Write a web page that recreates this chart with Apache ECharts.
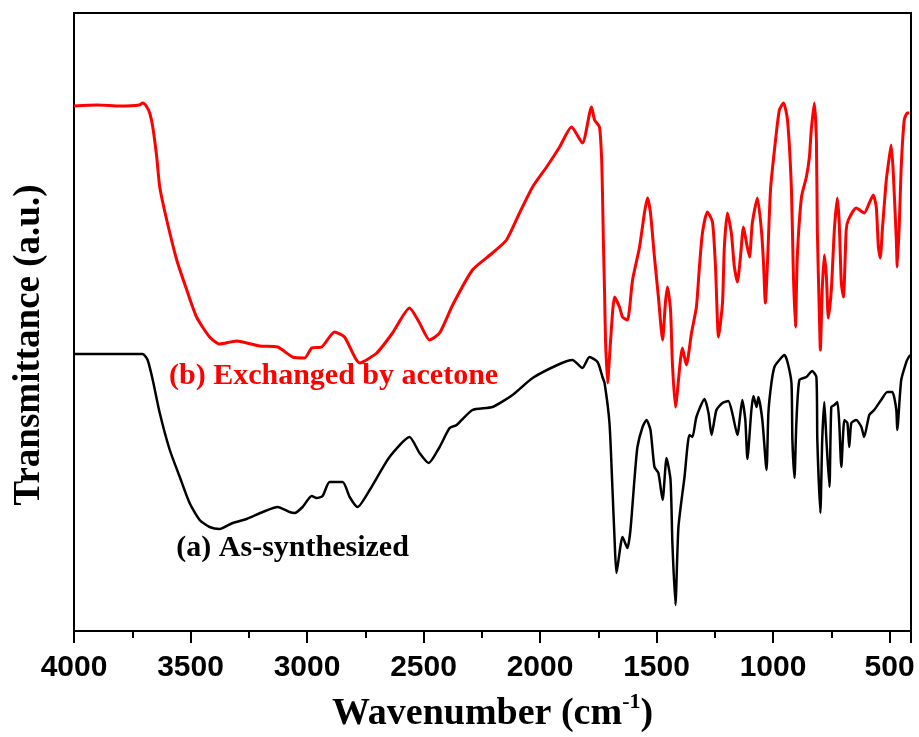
<!DOCTYPE html>
<html>
<head>
<meta charset="utf-8">
<script src="https://cdn.jsdelivr.net/npm/echarts@6/dist/echarts.min.js"></script>
<style>
  html, body { margin: 0; padding: 0; background: #fff; }
  #chart { width: 919px; height: 737px; }
</style>
</head>
<body>
<div id="chart"></div>
<script>
// FTIR spectra: [wavenumber (cm-1), transmittance (a.u., offset for stacking)]
const asSynthesized = [
  [4000,27.7],[3900,27.7],[3800,27.7],[3705,27.7],[3684,27.1],[3662,25.1],[3632,21.8],[3589,18.1],
  [3546,15.4],[3504,12.8],[3461,11.1],[3418,10.4],[3375,10.2],[3319,10.8],[3259,11.2],[3190,11.9],
  [3126,12.4],[3075,11.9],[3053,11.8],[3019,12.4],[2980,13.5],[2959,13.3],[2933,13.5],[2903,14.9],
  [2847,14.9],[2817,13.4],[2783,12.4],[2731,14.1],[2646,17.4],[2560,19.4],[2517,17.8],[2478,16.8],
  [2431,18.4],[2388,20.3],[2358,20.6],[2290,22.1],[2204,22.4],[2118,23.6],[2032,25.3],[1916,26.7],
  [1861,27.1],[1818,26.3],[1788,27.4],[1753,26.9],[1732,25.4],[1723,24.8],[1702,20.8],[1689,14.1],
  [1680,9.1],[1672,5.8],[1646,9.4],[1625,8.3],[1612,10.1],[1595,15.1],[1582,18.4],[1560,20.4],
  [1543,21.1],[1526,20.1],[1509,16.4],[1492,15.8],[1474,13.1],[1457,17.3],[1440,15.1],[1432,8.8],
  [1419,2.6],[1406,10.4],[1380,15.4],[1359,19.6],[1346,19.4],[1329,21.4],[1294,23.2],[1277,21.8],
  [1264,19.6],[1243,22.1],[1217,22.8],[1192,23.0],[1175,21.8],[1153,19.6],[1132,23.1],[1119,21.1],
  [1110,17.2],[1093,22.1],[1084,23.5],[1071,22.4],[1063,23.4],[1046,21.1],[1028,16.1],[1020,21.8],
  [1007,24.8],[994,26.4],[973,27.1],[951,27.6],[938,26.9],[921,24.8],[917,19.1],[908,15.3],
  [900,20.8],[887,25.1],[857,25.4],[832,26.0],[814,25.4],[810,19.1],[797,11.8],[789,19.1],
  [780,22.9],[771,19.1],[758,14.4],[750,22.4],[737,22.6],[724,22.9],[716,20.8],[707,16.4],
  [694,21.1],[681,20.8],[673,18.4],[664,20.8],[643,21.1],[621,20.4],[609,19.4],[587,21.6],
  [566,22.1],[536,23.1],[510,23.9],[488,23.9],[471,22.1],[467,20.1],[450,25.1],[428,26.9],
  [420,27.3],[411,27.6]
];

const acetoneExchanged = [
  [4000,52.5],[3900,52.6],[3800,52.5],[3720,52.6],[3705,52.8],[3690,52.5],[3675,51.8],[3662,50.4],
  [3645,47.4],[3632,44.4],[3602,41.1],[3559,37.1],[3516,34.1],[3474,31.4],[3418,29.4],[3375,28.7],
  [3302,29.0],[3203,28.5],[3126,28.4],[3062,27.4],[3010,27.3],[2980,28.3],[2937,28.4],[2882,29.9],
  [2839,29.4],[2774,26.8],[2701,27.8],[2633,29.8],[2560,32.3],[2517,30.8],[2474,29.1],[2431,29.8],
  [2375,32.6],[2290,36.1],[2204,37.8],[2144,39.1],[2088,41.8],[2032,44.4],[1972,46.4],[1916,48.4],
  [1865,50.4],[1818,48.8],[1779,52.4],[1766,51.1],[1745,50.4],[1736,47.4],[1732,43.8],[1728,38.8],
  [1723,33.8],[1719,29.1],[1710,24.8],[1698,28.8],[1680,33.4],[1659,32.4],[1646,31.4],[1625,31.1],
  [1603,35.1],[1573,38.4],[1552,41.8],[1539,43.3],[1526,41.8],[1509,37.4],[1492,33.4],[1474,29.1],
  [1462,32.8],[1453,34.4],[1440,32.1],[1432,26.8],[1419,22.4],[1389,28.3],[1372,26.6],[1350,29.8],
  [1329,32.4],[1316,36.4],[1303,39.8],[1282,41.9],[1260,40.9],[1247,36.4],[1234,29.4],[1217,32.8],
  [1209,38.4],[1196,41.8],[1179,39.8],[1166,36.4],[1153,34.9],[1140,37.4],[1127,40.4],[1114,38.8],
  [1101,37.4],[1089,40.8],[1067,43.3],[1050,40.1],[1041,36.8],[1033,32.8],[1024,36.8],[1011,44.1],
  [994,48.1],[973,52.1],[955,52.8],[938,51.1],[921,44.1],[913,35.8],[904,30.4],[896,37.4],
  [878,43.4],[857,45.4],[844,47.4],[836,50.1],[823,52.8],[814,49.1],[810,40.1],[801,31.4],
  [797,28.1],[789,34.1],[780,37.6],[771,35.4],[763,31.3],[750,34.1],[737,40.1],[724,43.3],
  [716,40.8],[707,34.8],[698,33.4],[686,40.1],[677,41.1],[643,42.3],[609,41.8],[587,42.8],
  [570,43.6],[557,42.4],[548,38.4],[540,37.3],[531,40.1],[514,45.1],[501,47.4],[493,48.6],
  [484,45.8],[471,39.1],[467,36.4],[458,40.8],[450,46.4],[437,51.1],[424,51.8],[415,51.8]
];

const seriesNames = ['(a) As-synthesized', '(b) Exchanged by acetone'];
const xTitle = 'Wavenumber (cm{sup|-1})';
const yTitle = 'Transmittance (a.u.)';

const serif = '"Liberation Serif", "Times New Roman", serif';
const sans = '"Liberation Sans", Arial, sans-serif';

// Text label placed next to a curve, anchored at a data coordinate
function curveLabel(text, color, coord) {
  return {
    silent: true,
    symbol: 'rect',
    symbolSize: 1,
    itemStyle: { color: 'rgba(0,0,0,0)' },
    label: {
      show: true,
      position: 'inside',
      formatter: text,
      color: color,
      fontFamily: serif,
      fontWeight: 'bold',
      fontSize: 30
    },
    data: [{ coord: coord }]
  };
}

const chart = echarts.init(document.getElementById('chart'), null, { renderer: 'canvas' });
chart.setOption({
  animation: false,
  backgroundColor: '#fff',
  grid: {
    left: 74, right: 8, top: 13, bottom: 106,
    outerBoundsMode: 'none',
    containLabel: false,
    show: true, borderColor: '#000', borderWidth: 2, backgroundColor: 'transparent'
  },
  xAxis: {
    type: 'value',
    inverse: true,
    min: 408,
    max: 4000,
    splitNumber: 7,
    name: xTitle,
    nameLocation: 'middle',
    nameGap: 60,
    nameTextStyle: {
      color: '#000', fontFamily: serif, fontWeight: 'bold', fontSize: 38, lineHeight: 46,
      rich: {
        sup: {
          color: '#000', fontFamily: serif, fontWeight: 'bold',
          fontSize: 22, lineHeight: 22, verticalAlign: 'top'
        }
      }
    },
    axisLine: { onZero: false, lineStyle: { color: '#000', width: 2 } },
    axisTick: { inside: false, length: 12, lineStyle: { color: '#000', width: 2 } },
    minorTick: { show: true, splitNumber: 2, length: 7, lineStyle: { color: '#000', width: 2 } },
    splitLine: { show: false },
    axisLabel: {
      showMinLabel: false,
      margin: 22,
      formatter: function (v) { return String(v); },
      color: '#000', fontFamily: sans, fontWeight: 'bold', fontSize: 30
    }
  },
  yAxis: {
    type: 'value',
    min: 0,
    max: 61.8,
    name: yTitle,
    nameLocation: 'middle',
    nameGap: 26,
    nameTextStyle: {
      color: '#000', fontFamily: serif, fontWeight: 'bold', fontSize: 37,
      padding: [0, 46, 0, 0]
    },
    axisLine: { show: true, lineStyle: { color: '#000', width: 2 } },
    axisTick: { show: false },
    axisLabel: { show: false },
    splitLine: { show: false }
  },
  series: [
    {
      name: seriesNames[0],
      type: 'line',
      data: asSynthesized,
      showSymbol: false,
      smooth: 0.2,
      lineStyle: { color: '#000', width: 2.5, join: 'round' },
      itemStyle: { color: '#000' },
      markPoint: curveLabel(seriesNames[0], '#000', [3062, 8.3])
    },
    {
      name: seriesNames[1],
      type: 'line',
      data: acetoneExchanged,
      showSymbol: false,
      smooth: 0.2,
      lineStyle: { color: '#ff0000', width: 3, join: 'round' },
      itemStyle: { color: '#ff0000' },
      markPoint: curveLabel(seriesNames[1], '#ff0000', [2886, 25.5])
    }
  ]
});
</script>
</body>
</html>
